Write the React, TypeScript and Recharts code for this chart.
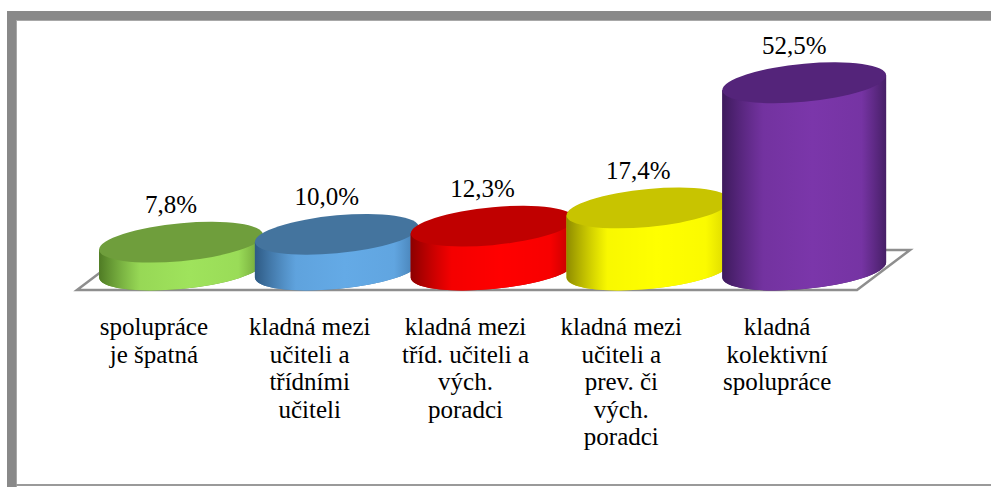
import { BarChart, Bar, XAxis, YAxis, LabelList } from 'recharts'

const categories = [
  'spolupráce\nje špatná',
  'kladná mezi\nučiteli a\ntřídními\nučiteli',
  'kladná mezi\ntříd. učiteli a\nvých.\nporadci',
  'kladná mezi\nučiteli a\nprev. či\nvých.\nporadci',
  'kladná\nkolektivní\nspolupráce',
]
const values = [7.8, 10.0, 12.3, 17.4, 52.5]

// top, side dark edge, side highlight, side right edge
const palette = [
  { top: '#6f9e3c', dark: '#4f7b24', light: '#9fe35c', right: '#6a9a33' },
  { top: '#44749e', dark: '#2e5a84', light: '#64aae6', right: '#4279ac' },
  { top: '#c00000', dark: '#8c0000', light: '#ff0000', right: '#b80000' },
  { top: '#c8c400', dark: '#8e8b00', light: '#ffff00', right: '#d6d200' },
  { top: '#54247a', dark: '#3d1a5c', light: '#7b36aa', right: '#461f66' },
]

const data = categories.map((name, i) => ({ name, value: values[i] }))

const textStyle = { fontFamily: "'Liberation Serif'", fontSize: 25 }
const RY = 19
const TILT = -5.2

function Cylinder(props: any) {
  const { x, y, width, height, index } = props
  const c = palette[index]
  const cx = x + width / 2
  const rx = width * 0.525
  const top = y
  const bot = y + height
  const side = `M${cx - rx},${top} L${cx - rx},${bot} A${rx},${RY} 0 0 0 ${cx + rx},${bot} L${cx + rx},${top} Z`
  return (
    <g transform={`translate(${cx},0) skewY(${TILT}) translate(${-cx},0)`}>
      <defs>
        <linearGradient id={`side${index}`} x1="0" y1="0" x2="1" y2="0">
          <stop offset="0%" stopColor={c.dark} />
          <stop offset="25%" stopColor={c.light} stopOpacity={0.85} />
          <stop offset="55%" stopColor={c.light} />
          <stop offset="85%" stopColor={c.light} stopOpacity={0.9} />
          <stop offset="100%" stopColor={c.right} />
        </linearGradient>
      </defs>
      <path d={side} fill={c.right} />
      <path d={side} fill={`url(#side${index})`} />
      <ellipse cx={cx} cy={top} rx={rx} ry={RY} fill={c.top} />
    </g>
  )
}

function ValueLabel(props: any) {
  const { x, y, width, value } = props
  return (
    <text x={x + width / 2 - 10} y={y - 29} textAnchor="middle" style={textStyle} fill="#000">
      {value.toFixed(1).replace('.', ',')}%
    </text>
  )
}

function CategoryTick(props: any) {
  const { x, y, payload } = props
  const lines = String(payload.value).split('\n')
  return (
    <text x={x - 27} y={y + 57} textAnchor="middle" style={textStyle} fill="#000">
      {lines.map((l, i) => (
        <tspan key={i} x={x - 27} dy={i === 0 ? 0 : 27.5}>{l}</tspan>
      ))}
    </text>
  )
}

export default function App() {
  return (
    <div style={{ position: 'fixed', left: 0, top: 0, width: 991, height: 487, background: '#fff', overflow: 'hidden' }}>
      <svg width={991} height={487} style={{ position: 'absolute', left: 0, top: 0 }}>
        <rect x={7} y={11} width={984} height={9} fill="#898989" />
        <rect x={7} y={11} width={9} height={476} fill="#898989" />
        <line x1={16} y1={20.5} x2={991} y2={20.5} stroke="#a8a8a8" strokeWidth={1} />
        <line x1={16.5} y1={20} x2={16.5} y2={487} stroke="#a8a8a8" strokeWidth={1} />
        <line x1={16} y1={485} x2={991} y2={485} stroke="#9a9a9a" strokeWidth={2} />
        <polygon points="77,290 857,290 910,250 130,250" fill="none" stroke="#8e8e8e" strokeWidth={2.5} />
      </svg>
      <div style={{ position: 'absolute', left: 0, top: 0 }}>
        <BarChart width={991} height={487} data={data} barCategoryGap={0} margin={{ top: 56, right: 109, left: 103, bottom: 0 }}>
          <XAxis dataKey="name" height={217} axisLine={false} tickLine={false} interval={0} tick={<CategoryTick />} />
          <YAxis hide domain={[0, 60]} />
          <Bar dataKey="value" shape={<Cylinder />} isAnimationActive={false}>
            <LabelList dataKey="value" content={<ValueLabel />} />
          </Bar>
        </BarChart>
      </div>
    </div>
  )
}
